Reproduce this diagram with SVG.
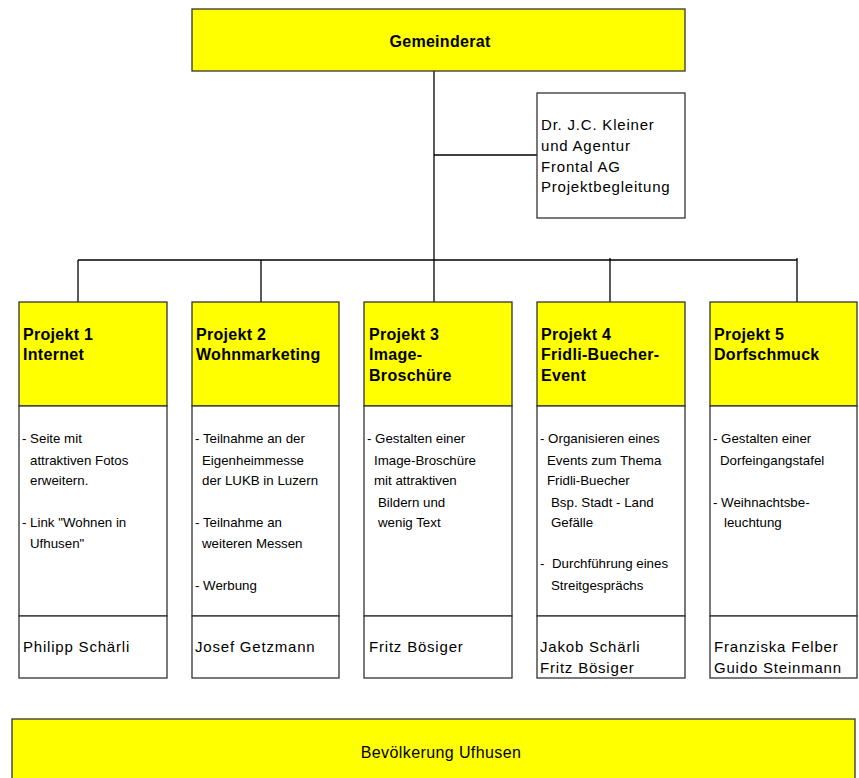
<svg xmlns="http://www.w3.org/2000/svg" width="859" height="778" viewBox="0 0 859 778">
<style>
.box{stroke:#333;stroke-width:1.3}
.y{fill:#ffff00}
.w{fill:#fff}
.ln{stroke:#000;stroke-width:1.3;fill:none}
text{font-family:"Liberation Sans",Arial,sans-serif;fill:#000}
.t{font-size:16px;font-weight:bold;letter-spacing:0.3px}
.m{font-size:13.3px}
.n{font-size:15px;letter-spacing:0.8px}
.k{font-size:15px;letter-spacing:0.8px}
</style>
<rect x="0" y="0" width="859" height="778" fill="#fff"/>
<g id="connectors">
<line class="ln" x1="434" y1="71" x2="434" y2="302"/>
<line class="ln" x1="434" y1="155" x2="538" y2="155"/>
<line class="ln" x1="78" y1="260" x2="797" y2="260"/>
<line class="ln" x1="78" y1="260" x2="78" y2="302"/>
<line class="ln" x1="261" y1="260" x2="261" y2="302"/>
<line class="ln" x1="610" y1="258" x2="610" y2="302"/>
<line class="ln" x1="797" y1="258" x2="797" y2="302"/>
</g>
<g id="gemeinderat">
<rect class="box y" x="192" y="9" width="493" height="62"/>
<text x="440" y="47" text-anchor="middle" style="font-size:16px;font-weight:bold;letter-spacing:0.3px">Gemeinderat</text>
</g>
<g id="kleiner">
<rect class="box w" x="537" y="93" width="148" height="125"/>
<text class="k" x="541" y="130">Dr. J.C. Kleiner</text>
<text class="k" x="541" y="151">und Agentur</text>
<text class="k" x="541" y="172">Frontal AG</text>
<text class="k" x="541" y="192">Projektbegleitung</text>
</g>
<g id="projekt1">
<rect class="box y" x="19" y="302" width="148" height="104"/>
<rect class="box w" x="19" y="406" width="148" height="210"/>
<rect class="box w" x="19" y="616" width="148" height="62"/>
<text class="t" x="23" y="340">Projekt 1</text>
<text class="t" x="23" y="360">Internet</text>
<text class="m" x="22" y="443">- Seite mit</text>
<text class="m" x="30" y="465">attraktiven Fotos</text>
<text class="m" x="30" y="485">erweitern.</text>
<text class="m" x="22" y="527">- Link "Wohnen in</text>
<text class="m" x="30" y="548">Ufhusen"</text>
<text class="n" x="23" y="652">Philipp Schärli</text>
</g>
<g id="projekt2">
<rect class="box y" x="192" y="302" width="147" height="104"/>
<rect class="box w" x="192" y="406" width="147" height="210"/>
<rect class="box w" x="192" y="616" width="147" height="62"/>
<text class="t" x="196" y="340">Projekt 2</text>
<text class="t" x="196" y="360">Wohnmarketing</text>
<text class="m" x="195" y="443">- Teilnahme an der</text>
<text class="m" x="202" y="465">Eigenheimmesse</text>
<text class="m" x="202" y="485">der LUKB in Luzern</text>
<text class="m" x="195" y="527">- Teilnahme an</text>
<text class="m" x="202" y="548">weiteren Messen</text>
<text class="m" x="195" y="590">- Werbung</text>
<text class="n" x="195" y="652">Josef Getzmann</text>
</g>
<g id="projekt3">
<rect class="box y" x="364" y="302" width="148" height="104"/>
<rect class="box w" x="364" y="406" width="148" height="210"/>
<rect class="box w" x="364" y="616" width="148" height="62"/>
<text class="t" x="369" y="340">Projekt 3</text>
<text class="t" x="369" y="360">Image-</text>
<text class="t" x="369" y="381">Broschüre</text>
<text class="m" x="367" y="443">- Gestalten einer</text>
<text class="m" x="374" y="465">Image-Broschüre</text>
<text class="m" x="374" y="485">mit attraktiven</text>
<text class="m" x="378" y="507">Bildern und</text>
<text class="m" x="378" y="527">wenig Text</text>
<text class="n" x="369" y="652">Fritz Bösiger</text>
</g>
<g id="projekt4">
<rect class="box y" x="537" y="302" width="148" height="104"/>
<rect class="box w" x="537" y="406" width="148" height="210"/>
<rect class="box w" x="537" y="616" width="148" height="62"/>
<text class="t" x="541" y="340">Projekt 4</text>
<text class="t" x="541" y="360">Fridli-Buecher-</text>
<text class="t" x="541" y="381">Event</text>
<text class="m" x="540" y="443">- Organisieren eines</text>
<text class="m" x="547" y="465">Events zum Thema</text>
<text class="m" x="547" y="485">Fridli-Buecher</text>
<text class="m" x="551" y="507">Bsp. Stadt - Land</text>
<text class="m" x="551" y="527">Gefälle</text>
<text class="m" x="540" y="568">-</text>
<text class="m" x="552" y="568">Durchführung eines</text>
<text class="m" x="551" y="590">Streitgesprächs</text>
<text class="n" x="540" y="652">Jakob Schärli</text>
<text class="n" x="540" y="673">Fritz Bösiger</text>
</g>
<g id="projekt5">
<rect class="box y" x="710" y="302" width="147" height="104"/>
<rect class="box w" x="710" y="406" width="147" height="210"/>
<rect class="box w" x="710" y="616" width="147" height="62"/>
<text class="t" x="714" y="340">Projekt 5</text>
<text class="t" x="714" y="360">Dorfschmuck</text>
<text class="m" x="713" y="443">- Gestalten einer</text>
<text class="m" x="720" y="465">Dorfeingangstafel</text>
<text class="m" x="713" y="507">- Weihnachtsbe-</text>
<text class="m" x="724" y="527">leuchtung</text>
<text class="n" x="714" y="652">Franziska Felber</text>
<text class="n" x="714" y="673">Guido Steinmann</text>
</g>
<g id="bevoelkerung">
<rect class="box y" x="12" y="719" width="843" height="70"/>
<text x="441" y="758" text-anchor="middle" style="font-size:16px;letter-spacing:0.4px">Bevölkerung Ufhusen</text>
</g>
</svg>
